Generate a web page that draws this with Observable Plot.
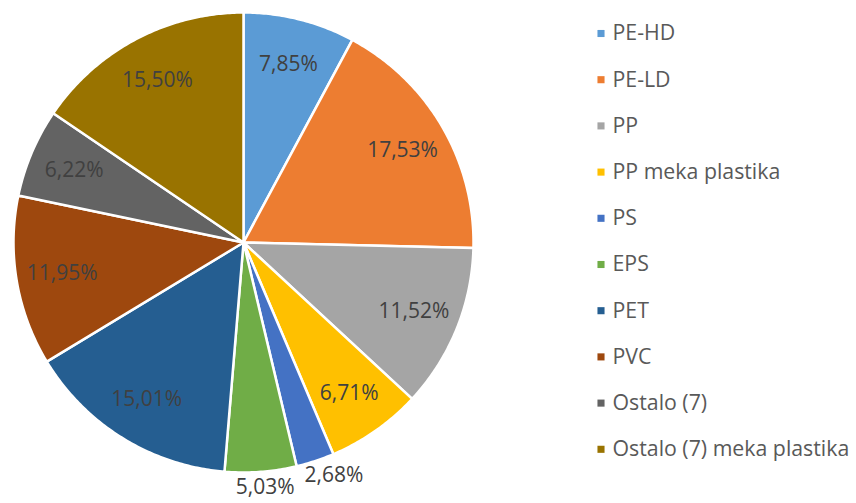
<!DOCTYPE html>
<html><head><meta charset="utf-8">
<script src="https://cdn.jsdelivr.net/npm/d3@7"></script>
<script src="https://cdn.jsdelivr.net/npm/@observablehq/plot@0.6"></script>
<style>body{margin:0;background:#fff}#chart svg{display:block}</style>
</head><body><div id="chart"></div>
<script>
const categories = ["PE-HD","PE-LD","PP","PP meka plastika","PS","EPS","PET","PVC","Ostalo (7)","Ostalo (7) meka plastika"];
const values = [7.85,17.53,11.52,6.71,2.68,5.03,15.01,11.95,6.22,15.50];
const colors = ["#5B9BD5","#ED7D31","#A5A5A5","#FFC000","#4472C4","#70AD47","#255E91","#9E480E","#636363","#997300"];

const W = 856, H = 503, cx = 243, cy = 242, R = 230;
const fmt = v => d3.format(".2f")(v).replace(".", ",") + "%";
const arcs = d3.pie().sort(null)(values).map((a, i) => ({...a, name: categories[i]}));

const slicePts = [];
arcs.forEach(a => {
  const n = Math.max(2, Math.ceil((a.endAngle - a.startAngle) / 0.01));
  slicePts.push({name: a.name, px: cx, py: cy});
  for (let k = 0; k <= n; k++) {
    const t = a.startAngle + (a.endAngle - a.startAngle) * k / n;
    slicePts.push({name: a.name, px: cx + R * Math.sin(t), py: cy - R * Math.cos(t)});
  }
  slicePts.push({name: a.name, px: cx, py: cy});
});

const labelPos = arcs.map(a => {
  const m = (a.startAngle + a.endAngle) / 2;
  const outside = a.data < 6;
  const d = outside ? 245 : 0.8 * R;
  const dx = outside ? d + 45 : d;
  return {text: fmt(a.data), x: cx + dx * Math.sin(m), y: cy - d * Math.cos(m)};
});

const legend = categories.map((c, i) => ({name: c, y: 33 + i * 46.2}));
const font = "'Open Sans', sans-serif";

const chart = Plot.plot({
  width: W, height: H, margin: 0,
  x: {domain: [0, W], range: [0, W], axis: null},
  y: {domain: [0, H], range: [0, H], axis: null},
  color: {domain: categories, range: colors},
  style: {fontFamily: font, background: "#fff"},
  marks: [
    Plot.line(slicePts, {x: "px", y: "py", z: "name", fill: "name", stroke: "#fff", strokeWidth: 2.5, strokeLinejoin: "round", curve: "linear"}),
    Plot.text(labelPos, {x: "x", y: "y", text: "text", fill: "#404040", fontSize: 21, textAnchor: "middle"}),
    Plot.dot(legend, {x: 600.5, y: "y", symbol: "square", r: 4, fill: "name"}),
    Plot.text(legend, {x: 612, y: "y", text: "name", fill: "#595959", fontSize: 21.3, textAnchor: "start"})
  ]
});
document.getElementById("chart").appendChild(chart);
</script>
</body></html>
